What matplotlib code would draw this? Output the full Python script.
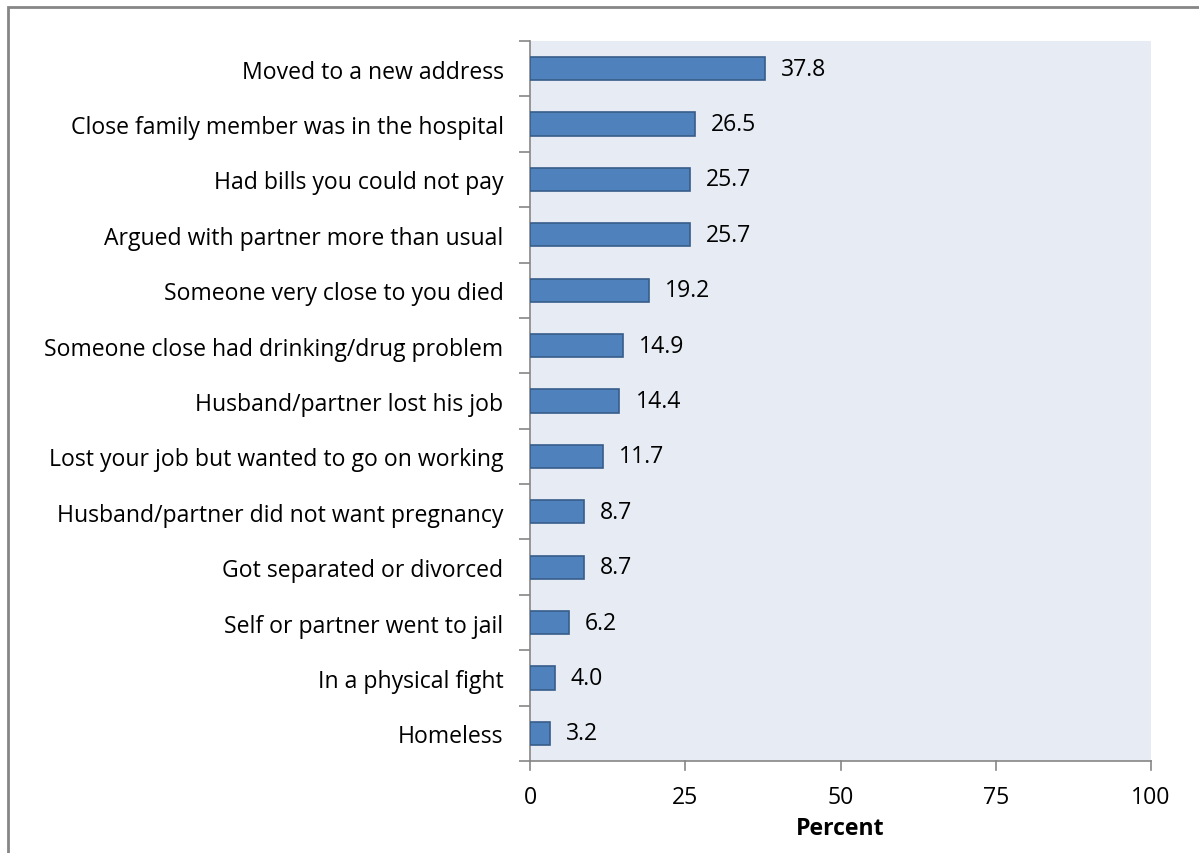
import matplotlib.pyplot as plt
from matplotlib.patches import Rectangle
import numpy as np

plt.rcParams['font.family'] = ['Open Sans', 'DejaVu Sans']

# Data (top to bottom as in chart)
events = [
    "Moved to a new address",
    "Close family member was in the hospital",
    "Had bills you could not pay",
    "Argued with partner more than usual",
    "Someone very close to you died",
    "Someone close had drinking/drug problem",
    "Husband/partner lost his job",
    "Lost your job but wanted to go on working",
    "Husband/partner did not want pregnancy",
    "Got separated or divorced",
    "Self or partner went to jail",
    "In a physical fight",
    "Homeless",
]
percent = [37.8, 26.5, 25.7, 25.7, 19.2, 14.9, 14.4, 11.7, 8.7, 8.7, 6.2, 4.0, 3.2]
x_ticks = [0, 25, 50, 75, 100]

FS = 16.6
W, H = 1199, 854
fig = plt.figure(figsize=(W / 100, H / 100), dpi=100)
ax = fig.add_axes([530 / W, 1 - 762 / H, (1151 - 530) / W, (762 - 42) / H])

n = len(events)
y = np.arange(n)[::-1]
ax.barh(y, percent, height=0.42, color='#4F81BD', edgecolor='#385D8A', linewidth=1.2, zorder=3)

for yi, v in zip(y, percent):
    ax.text(v + 2.6, yi, f"{v:.1f}", va='center', ha='left', fontsize=FS, color='black')

ax.set_facecolor('#E7ECF4')
ax.set_xlim(0, 100)
ax.set_ylim(-0.5, n - 0.5)
ax.set_xticks(x_ticks)
ax.set_xticklabels([str(t) for t in x_ticks], fontsize=FS)
ax.set_yticks(y)
ax.set_yticklabels(events, fontsize=FS)
ax.tick_params(axis='y', length=0, pad=19)
ax.tick_params(axis='x', length=0, pad=17)

# category boundary ticks on the y axis
ax.set_yticks(np.arange(-0.5, n, 1.0), minor=True)
ax.tick_params(axis='y', which='minor', length=8, color='#868686', width=1.2)
# x ticks pointing down
for t in x_ticks:
    ax.plot([t, t], [0, -0.012], transform=ax.get_xaxis_transform(), color='#868686', lw=1.2, clip_on=False)

for side in ['top', 'right']:
    ax.spines[side].set_visible(False)
for side in ['left', 'bottom']:
    ax.spines[side].set_color('#868686')
    ax.spines[side].set_linewidth(1.2)

ax.set_xlabel("Percent", fontsize=FS, fontweight='bold', labelpad=5)

# outer chart border
fig.patches.append(Rectangle((7.5 / W, -0.1), 1.2, 1 - 7.5 / H + 0.1, transform=fig.transFigure,
                             fill=False, edgecolor='#868686', linewidth=2))

fig.savefig('out.png', dpi=100)
